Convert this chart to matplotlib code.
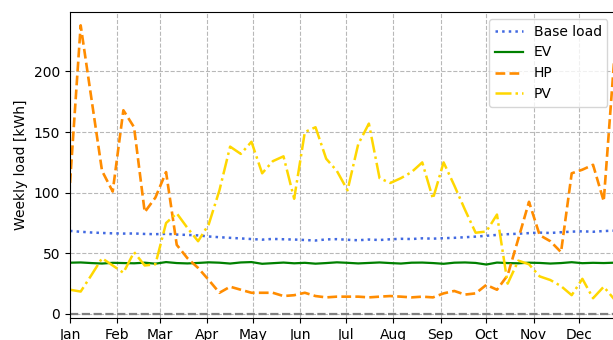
import numpy as np
import matplotlib
matplotlib.use("Agg")
import matplotlib.pyplot as plt

# Weekly energy per load type, one value per week of the year
week_day = [7 * k for k in range(52)]

base_load = [68.5, 67.8, 67.2, 66.8, 66.5, 66.3, 66.4, 66.0, 65.8, 66.1, 65.5, 65.2, 64.8,
             63.9, 63.3, 62.8, 62.3, 61.8, 61.3, 61.9, 61.6, 61.4, 61.0, 60.6, 61.5, 61.7,
             61.2, 60.8, 61.4, 61.0, 61.6, 62.0, 61.8, 62.4, 62.1, 62.5, 62.8, 63.3, 63.8,
             64.5, 65.2, 65.8, 66.2, 66.7, 67.1, 66.8, 67.4, 67.9, 68.2, 67.8, 68.4, 68.7]

ev = [42.3, 42.5, 42.0, 41.6, 42.2, 42.0, 41.8, 42.3, 41.5, 42.8, 42.0, 41.7, 42.1,
      42.6, 42.3, 41.6, 42.5, 42.8, 41.4, 41.9, 42.4, 41.8, 42.2, 41.5, 42.0, 42.6,
      42.2, 41.7, 42.1, 42.5, 42.0, 41.6, 42.3, 42.4, 42.0, 41.4, 42.3, 42.5, 42.1,
      40.8, 42.4, 42.0, 41.8, 42.3, 42.1, 41.6, 42.0, 42.7, 41.9, 42.2, 42.0, 42.3]

hp = [108, 238, 178, 118, 101, 168, 154, 84, 96, 117, 57, 46, 38,
      28, 17.5, 22.5, 20, 17.5, 17.5, 17.5, 14.8, 15.5, 17.5, 14.8, 13.7, 14.3,
      14.3, 14.3, 13.7, 14.3, 14.8, 14.3, 13.7, 14.3, 13.7, 17, 19, 16, 17,
      24, 20, 32, 62, 92.5, 65, 60, 51, 116, 119, 123, 93, 212]

pv = [20, 18.5, 32, 46, 40, 34, 51, 40, 41, 75, 83, 71, 60,
      74, 102, 138, 132, 142, 116, 126, 130, 95, 150, 154, 128, 118,
      102, 140, 157, 112, 108, 112, 117, 125, 95, 125, 106, 86, 67,
      68, 82, 25, 44, 41, 31, 28, 23, 15.5, 29, 13, 22.5, 12]

month_start_day = [0, 31, 59, 90, 120, 151, 181, 212, 243, 273, 304, 334]
month_labels = ["Jan", "Feb", "Mar", "Apr", "May", "Jun",
                "Jul", "Aug", "Sep", "Oct", "Nov", "Dec"]

fig = plt.figure(figsize=(6.13, 3.4), dpi=100)
ax = fig.add_axes([70 / 613, 1 - 318 / 340, (614.4 - 70) / 613, (318 - 12) / 340])

ax.plot(week_day, base_load, color="royalblue", linestyle=":", linewidth=1.8, label="Base load")
ax.plot(week_day, ev, color="green", linestyle="-", linewidth=1.6, label="EV")
ax.plot(week_day, hp, color="darkorange", linestyle="--", linewidth=1.9, label="HP")
ax.plot(week_day, pv, color="gold", linestyle="-.", linewidth=1.8, label="PV")
ax.axhline(0, color="grey", linestyle="--", linewidth=1.6)

ax.set_xlim(0, week_day[-1])
ax.set_ylim(-3.3, 249)
ax.set_xticks(month_start_day)
ax.set_xticklabels(month_labels)
ax.set_yticks([0, 50, 100, 150, 200])
ax.set_ylabel("Weekly load [kWh]")
ax.grid(True, linestyle="--", color="#b8b8b8", linewidth=0.8)
ax.legend(loc="upper right")

fig.savefig("out.png", dpi=100)
